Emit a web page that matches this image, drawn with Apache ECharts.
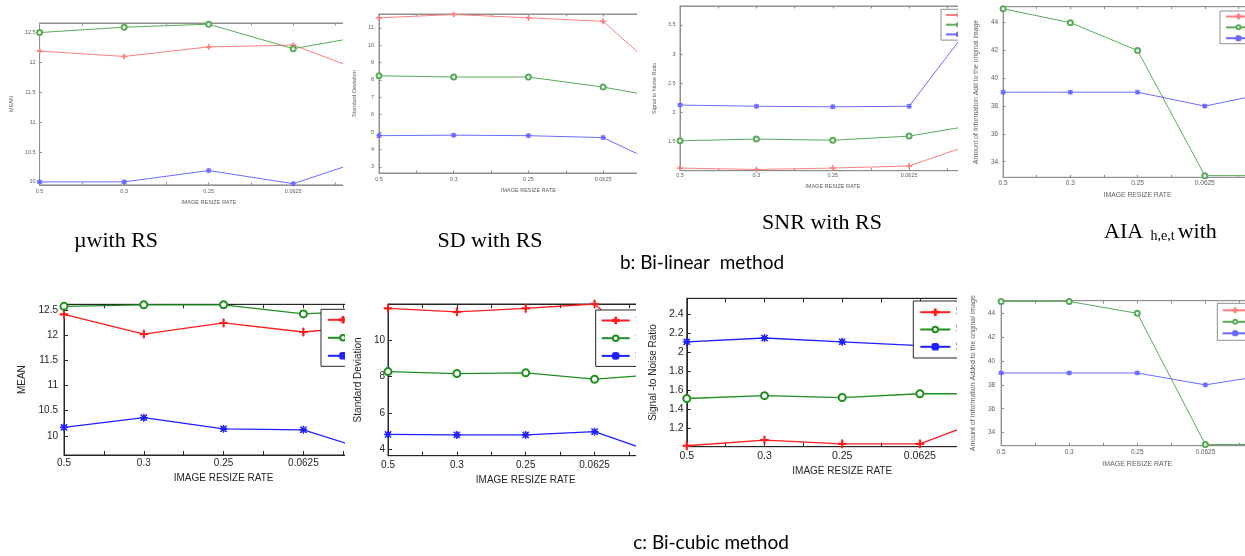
<!DOCTYPE html>
<html><head><meta charset="utf-8">
<script src="https://cdn.jsdelivr.net/npm/echarts@6/dist/echarts.min.js"></script>
<style>
html,body{margin:0;padding:0;background:#fff;}
#page{position:relative;width:1245px;height:556px;overflow:hidden;background:#fff;}
.clip{position:absolute;overflow:hidden;}
.chart{position:absolute;left:0;top:0;}
#captions{position:absolute;left:0;top:0;width:1245px;height:556px;}
</style></head><body><div id="page"><div id="captions"></div></div>
<script>
// ---------------- DATA ----------------
const xTickLabels = ['0.5', '0.3', '0.25', '0.0625'];
const meanTicks = [10, 10.5, 11, 11.5, 12, 12.5];
const sdTicksTop = [3, 4, 5, 6, 7, 8, 9, 10, 11];
const snrTicksTop = [1.5, 2, 2.5, 3, 3.5];
const aiaTicks = [34, 36, 38, 40, 42, 44];
const sdTicksBottom = [4, 6, 8, 10];
const snrTicksBottom = [1.2, 1.4, 1.6, 1.8, 2, 2.2, 2.4];

// b: Bi-linear method
const blMeanRed   = [12.19, 12.10, 12.26, 12.29, 11.76];
const blMeanGreen = [12.50, 12.59, 12.64, 12.23, 12.48];
const blMeanBlue  = [10.00, 10.00, 10.19, 9.97, 10.44];
const blSdRed     = [11.58, 11.77, 11.58, 11.38, 7.54];
const blSdGreen   = [8.24, 8.17, 8.17, 7.59, 6.81];
const blSdBlue    = [4.79, 4.82, 4.79, 4.68, 2.64];
const blSnrRed    = [1.055, 1.03, 1.055, 1.09, 1.54];
const blSnrGreen  = [1.52, 1.55, 1.53, 1.60, 1.82];
const blSnrBlue   = [2.13, 2.11, 2.10, 2.11, 3.82];
const blAiaRed    = [];
const blAiaGreen  = [45, 44, 42, 33, 33];
const blAiaBlue   = [39, 39, 39, 38, 39];

// c: Bi-cubic method
const bcMeanRed   = [12.41, 12.02, 12.24, 12.06, 12.20];
const bcMeanGreen = [12.57, 12.60, 12.60, 12.42, 12.50];
const bcMeanBlue  = [10.17, 10.36, 10.14, 10.12, 9.62];
const bcSdRed     = [11.74, 11.55, 11.74, 11.98, 8.60];
const bcSdGreen   = [8.27, 8.16, 8.20, 7.85, 8.13];
const bcSdBlue    = [4.82, 4.79, 4.79, 4.97, 3.65];
const bcSnrRed    = [1.01, 1.07, 1.03, 1.03, 1.34];
const bcSnrGreen  = [1.51, 1.54, 1.52, 1.56, 1.56];
const bcSnrBlue   = [2.11, 2.15, 2.11, 2.07, 2.57];
const bcAiaRed    = [];
const bcAiaGreen  = [45, 45, 44, 33, 33];
const bcAiaBlue   = [39, 39, 39, 38, 38.9];

const seriesNames = ['S1', 'S2', 'S3'];
const xAxisTitle = 'IMAGE RESIZE RATE';

// ---------------- STYLE ----------------
const PLUS = 'path://M4.3,0H5.7V4.3H10V5.7H5.7V10H4.3V5.7H0V4.3H4.3Z';
const STAR = 'path://M4.4,0H5.6V10H4.4Z M0,4.4H10V5.6H0Z M1.3,0.5L9.5,8.7L8.7,9.5L0.5,1.3Z M8.7,0.5L9.5,1.3L1.3,9.5L0.5,8.7Z';
const TOP = {red:'#ff7f7f', green:'#5aab5a', blue:'#6a6aff', axis:'#8e8e8e', text:'#5e5e5e', lw:1, tick:2.5,
             sizes:{plus:5, circle:5, star:4.5}};
const BOT = {red:'#ff1c1c', green:'#1f8f1f', blue:'#2020ff', axis:'#262626', text:'#262626', lw:1.3, tick:4,
             sizes:{plus:8, circle:7, star:7}};
const FONT = '"Liberation Sans", Arial, sans-serif';

const panels = [
  {clip:[0,0,343,210], frame:[35,23,187], spacing:85.7, y:[9.95,12.66], ticks:meanTicks, top:true,
   fs:5.5, nfs:5.5, yName:'MEAN', yNameGap:20, xNameGap:11, xLM:3.2, yLM:4,
   data:[blMeanRed, blMeanGreen, blMeanBlue], legend:null},
  {clip:[343,0,294,210], frame:[367,14,173], spacing:77.7, y:[2.64,11.8], ticks:sdTicksTop, top:true,
   fs:5.5, nfs:5.5, yName:'Standard Deviation', yNameGap:14, xNameGap:12, xLM:3.2, yLM:5,
   data:[blSdRed, blSdGreen, blSdBlue], legend:null},
  {clip:[643,0,315,210], frame:[665.5,6,170.7], spacing:80, y:[1.01,3.82], ticks:snrTicksTop, top:true,
   fs:5.5, nfs:5.5, yName:'Signal to Noise Ratio', yNameGap:15, xNameGap:9.5, xLM:1.8, yLM:4.5,
   data:[blSnrRed, blSnrGreen, blSnrBlue], legend:{l:941,t:9.3,ih:4,gap:3.7,pad:[2.7,4,2.7,4],iw:25}},
  {clip:[965,0,280,210], frame:[992,6.7,177.3], spacing:70, y:[32.88,45.15], ticks:aiaTicks, top:true,
   fs:6.5, nfs:6.8, yName:'Amount of Information Add to the original image', yNameGap:16.5, xNameGap:9.5, xLM:2.2, yLM:5,
   data:[blAiaRed, blAiaGreen, blAiaBlue], legend:{l:1220,t:11,ih:5,gap:3.85,pad:[2,5,2,5],iw:25}},
  {clip:[0,285,345,215], frame:[64,304.3,455], spacing:79.8, y:[9.62,12.61], ticks:meanTicks, top:false,
   fs:10, nfs:10, yName:'MEAN', yNameGap:32, xNameGap:16.7, xLM:3.3, yLM:6,
   data:[bcMeanRed, bcMeanGreen, bcMeanBlue], legend:{l:321,t:309.3,ih:7,gap:8,pad:[5.5,6,5.5,6],iw:30}},
  {clip:[345,285,291,215], frame:[379,304,455.7], spacing:71.1, y:[3.65,11.98], ticks:sdTicksBottom, top:false,
   fs:10, nfs:10, yName:'Standard Deviation', yNameGap:21, xNameGap:17, xLM:4.3, yLM:3,
   data:[bcSdRed, bcSdGreen, bcSdBlue], legend:{l:595.7,t:310,ih:7,gap:7.7,pad:[5.5,5,5.5,5],iw:28}},
  {clip:[640,285,317,215], frame:[680,298.3,446.7], spacing:79.4, y:[1.0,2.57], ticks:snrTicksBottom, top:false,
   fs:10.5, nfs:10, yName:'Signal -to Noise Ratio', yNameGap:26.5, xNameGap:16.4, xLM:3.7, yLM:3.3,
   data:[bcSnrRed, bcSnrGreen, bcSnrBlue], legend:{l:913.3,t:301,ih:7,gap:7.3,pad:[6.2,6,6.2,6],iw:30}},
  {clip:[962,285,283,215], frame:[991,300.7,445.7], spacing:70.6, y:[32.9,45.06], ticks:aiaTicks, top:false,
   fs:6.5, nfs:7, yName:'Amount of Information Added to the original image', yNameGap:17.5, xNameGap:12, xLM:2.7, yLM:6,
   data:[bcAiaRed, bcAiaGreen, bcAiaBlue], legend:{l:1217.3,t:303.3,ih:5,gap:4.5,pad:[3.5,4.4,3.5,4.4],iw:25}, aiaStyle:true}
];

function xLabel(v) {
  const i = Math.round(v);
  return (Math.abs(v - i) < 1e-9 && i >= 1 && i <= xTickLabels.length) ? xTickLabels[i - 1] : '';
}

function buildPanel(p) {
  let th = p.top ? TOP : BOT;
  if (p.aiaStyle) th = Object.assign({}, TOP, {tick:3});
  const page = document.getElementById('page');
  const clipDiv = document.createElement('div');
  clipDiv.className = 'clip';
  Object.assign(clipDiv.style, {left:p.clip[0]+'px', top:p.clip[1]+'px', width:p.clip[2]+'px', height:p.clip[3]+'px'});
  const gl = p.frame[0] - p.clip[0], gt = p.frame[1] - p.clip[1];
  const gw = p.spacing * 4, gh = p.frame[2] - p.frame[1];
  const cw = Math.ceil(gl + gw + 60), ch = p.clip[3];
  const chartDiv = document.createElement('div');
  chartDiv.className = 'chart';
  chartDiv.style.width = cw + 'px'; chartDiv.style.height = ch + 'px';
  clipDiv.appendChild(chartDiv); page.appendChild(clipDiv);
  const chart = echarts.init(chartDiv, null, {width:cw, height:ch});
  const colors = [th.red, th.green, th.blue];
  const symbols = [PLUS, 'emptyCircle', STAR];
  const sizes = [th.sizes.plus, th.sizes.circle, th.sizes.star];
  const series = p.data.map((vals, k) => ({
    name: seriesNames[k], type:'line', data: vals.map((v, i) => [i + 1, v]),
    symbol: symbols[k], symbolSize: sizes[k], showAllSymbol:true,
    itemStyle:{color: colors[k], borderColor: colors[k], borderWidth: 1},
    lineStyle:{color: colors[k], width: th.lw}, xAxisIndex:0, yAxisIndex:0,
    animation:false, silent:true, clip:true
  }));
  const axisBase = {axisLine:{show:true, lineStyle:{color:th.axis, width:1}},
                    splitLine:{show:false}};
  const opt = {
    animation:false,
    grid:{left:gl, top:gt, width:gw, height:gh, show:true, borderColor:th.axis, borderWidth:1, containLabel:false},
    xAxis:[
      Object.assign({type:'value', min:1, max:5, interval:0.5, position:'bottom',
        axisTick:{show:true, inside:true, length:th.tick, lineStyle:{color:th.axis}},
        axisLabel:{formatter:xLabel, fontSize:p.fs, color:th.text, fontFamily:FONT, margin:p.xLM},
        name:xAxisTitle, nameLocation:'middle', nameGap:p.xNameGap,
        nameTextStyle:{fontSize:p.nfs, color:th.text, fontFamily:FONT}}, axisBase),
      Object.assign({type:'value', min:1, max:5, interval:0.5, position:'top',
        axisTick:{show:true, inside:true, length:th.tick, lineStyle:{color:th.axis}},
        axisLabel:{show:false}}, axisBase)
    ],
    yAxis:[Object.assign({type:'value', min:p.y[0], max:p.y[1],
      axisTick:{show:true, inside:true, length:th.tick, customValues:p.ticks, lineStyle:{color:th.axis}},
      axisLabel:{customValues:p.ticks, fontSize:p.fs, color:th.text, fontFamily:FONT, margin:p.yLM},
      name:p.yName, nameLocation:'middle', nameGap:p.yNameGap,
      nameTextStyle:{fontSize:p.nfs, color:th.text, fontFamily:FONT}}, axisBase)],
    series: series
  };
  if (p.legend) {
    const L = p.legend;
    opt.legend = {orient:'vertical', left:L.l - p.clip[0], top:L.t - p.clip[1],
      itemWidth:L.iw, itemHeight:L.ih, itemGap:L.gap, padding:L.pad,
      borderColor:th.axis, borderWidth:1, backgroundColor:'#fff', selectedMode:false,
      textStyle:{fontSize:p.nfs, color:'#8a8a8a', fontFamily:FONT},
      data: seriesNames.slice()};
  }
  chart.setOption(opt);
}

// captions (drawn first, below panels)
const cap = echarts.init(document.getElementById('captions'), null, {width:1245, height:556});
const serif = '22px "Liberation Serif", "Times New Roman", serif';
const sans = '19px Lato, "Noto Sans", sans-serif';
cap.setOption({
  animation:false,
  graphic:[
    {type:'text', x:116, y:241, style:{text:'\u00b5with RS', font:serif, fill:'#000', align:'center', verticalAlign:'middle'}},
    {type:'text', x:490, y:241, style:{text:'SD with RS', font:serif, fill:'#000', align:'center', verticalAlign:'middle'}},
    {type:'text', x:822, y:223, style:{text:'SNR with RS', font:serif, fill:'#000', align:'center', verticalAlign:'middle'}},
    {type:'text', x:1104, y:232, style:{text:'{a|AIA }{s|h,e,t}{a|with}', fill:'#000', verticalAlign:'middle',
      rich:{a:{font:serif, fill:'#000'}, s:{font:'14px "Liberation Serif", serif', fill:'#000', verticalAlign:'bottom', padding:[0,3,0,2]}}}},
    {type:'text', x:702, y:263, style:{text:'b: Bi-linear  method', font:sans, fill:'#000', align:'center', verticalAlign:'middle'}},
    {type:'text', x:711, y:543, style:{text:'c: Bi-cubic method', font:sans, fill:'#000', align:'center', verticalAlign:'middle'}}
  ]
});

panels.forEach(buildPanel);
</script></body></html>
